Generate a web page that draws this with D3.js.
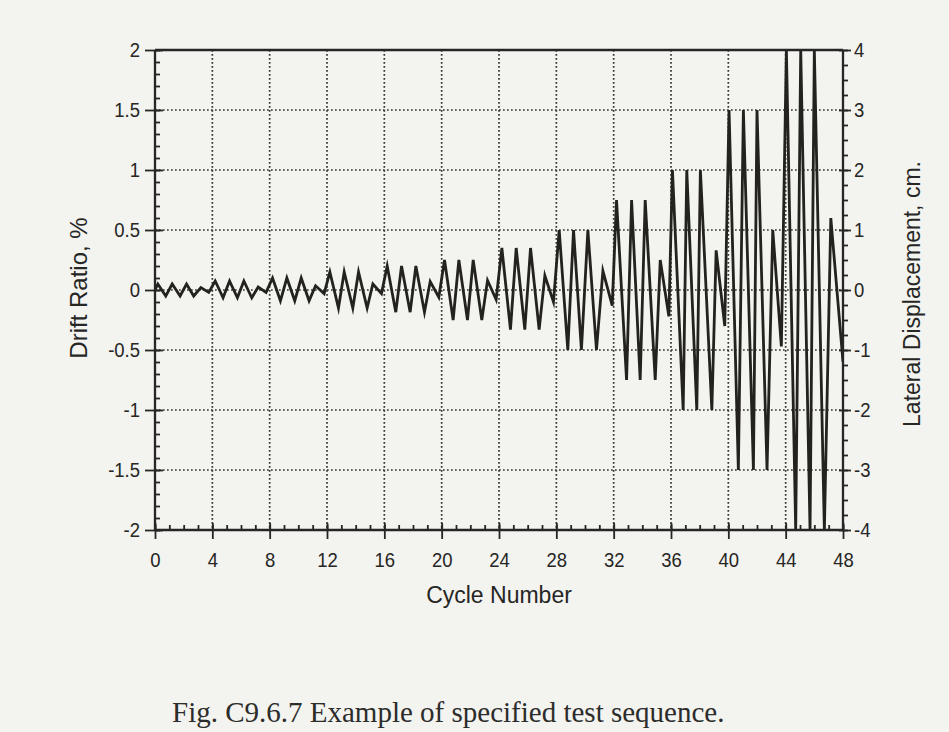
<!DOCTYPE html>
<html><head><meta charset="utf-8">
<script src="https://cdn.jsdelivr.net/npm/d3@7"></script>
<style>
html,body{margin:0;padding:0;background:#f3f3f0;}
svg{display:block;}
text{font-family:"Liberation Sans",Arial,Helvetica,sans-serif;fill:#262624;}
</style></head><body>
<svg id="chart" width="949" height="732"></svg>
<script>
// ---- data ----
const xTickValues = [0,4,8,12,16,20,24,28,32,36,40,44,48];
const xTickLabels = ["0","4","8","12","16","20","24","28","32","36","40","44","48"];
const yTickValues = [-2,-1.5,-1,-0.5,0,0.5,1,1.5,2];
const yTickLabels = ["-2","-1.5","-1","-0.5","0","0.5","1","1.5","2"];
const y2TickValues = [-4,-3,-2,-1,0,1,2,3,4];
const y2TickLabels = ["-4","-3","-2","-1","0","1","2","3","4"];

// cycle position of each positive peak and its drift ratio (%)
const peakCycle = [0.2,1.2,2.2,3.2, 4.2,5.2,6.2,7.2, 8.2,9.2,10.2,11.2,
  12.2,13.2,14.2,15.2, 16.2,17.2,18.2,19.2, 20.2,21.2,22.2,23.2,
  24.2,25.2,26.2,27.2, 28.2,29.2,30.2,31.25, 32.2,33.25,34.2,35.25,
  36.1,37.1,38.05,39.15, 40.05,41.05,42.0,43.1, 44.05,45.05,46.0,47.15];
const peakDrift = [0.05,0.05,0.05,0.02, 0.075,0.075,0.075,0.025, 0.1,0.1,0.1,0.035,
  0.15,0.15,0.15,0.05, 0.2,0.2,0.2,0.07, 0.25,0.25,0.25,0.08,
  0.35,0.35,0.35,0.12, 0.5,0.5,0.5,0.16, 0.75,0.75,0.75,0.25,
  1.0,1.0,1.0,0.33, 1.5,1.5,1.5,0.5, 2.0,2.0,2.0,0.6];
// cycle position of each negative peak and its drift ratio (%)
const troughCycle = [0.75,1.75,2.7,3.75, 4.75,5.75,6.75,7.75, 8.75,9.75,10.75,11.8,
  12.8,13.8,14.8,15.8, 16.8,17.8,18.8,19.8, 20.8,21.8,22.8,23.8,
  24.8,25.8,26.8,27.8, 28.8,29.75,30.8,31.9, 32.9,33.85,34.9,35.85,
  36.85,37.8,38.85,39.75, 40.7,41.75,42.7,43.7, 44.7,45.7,46.7,48];
const troughDrift = [-0.05,-0.05,-0.05,-0.02, -0.065,-0.065,-0.065,-0.02, -0.09,-0.09,-0.09,-0.03,
  -0.15,-0.15,-0.15,-0.03, -0.185,-0.185,-0.185,-0.06, -0.25,-0.25,-0.25,-0.08,
  -0.33,-0.33,-0.33,-0.1, -0.5,-0.5,-0.5,-0.13, -0.75,-0.75,-0.75,-0.22,
  -1.0,-1.0,-1.0,-0.3, -1.5,-1.5,-1.5,-0.47, -2.0,-2.0,-2.0,-0.6];
const startPoint = [0, 0];

// ---- layout ----
const L = 155, R = 843, T = 50, B = 530;
const ink = "#262624";
const svg = d3.select("#chart");

const x = d3.scaleLinear().domain([0,48]).range([L,R]);
const y = d3.scaleLinear().domain([-2,2]).range([B,T]);
const y2 = d3.scaleLinear().domain([-4,4]).range([B,T]);

// dotted grid
const grid = svg.append("g").attr("stroke", "#353533").attr("stroke-width", 1.7)
  .attr("stroke-dasharray", "1.7,2.3");
grid.selectAll("line.v").data(xTickValues.filter(v => v > 0 && v < 48)).join("line")
  .attr("x1", d => x(d)).attr("x2", d => x(d)).attr("y1", T).attr("y2", B);
grid.selectAll("line.h").data(yTickValues.filter(v => v > -2 && v < 2)).join("line")
  .attr("y1", d => y(d)).attr("y2", d => y(d)).attr("x1", L).attr("x2", R);

// data line
const pts = [startPoint];
for (let i = 0; i < peakCycle.length; i++) {
  pts.push([peakCycle[i], peakDrift[i]]);
  pts.push([troughCycle[i], troughDrift[i]]);
}
svg.append("clipPath").attr("id","clip").append("rect")
  .attr("x", L).attr("y", T).attr("width", R-L).attr("height", B-T);
svg.append("path").datum(pts)
  .attr("clip-path","url(#clip)")
  .attr("fill","none").attr("stroke","#23221e").attr("stroke-width",2.8)
  .attr("stroke-linejoin","miter").attr("stroke-miterlimit",6)
  .attr("d", d3.line().x(d => x(d[0])).y(d => y(d[1])));

// helpers
function styleAxis(g, fs) {
  g.select(".domain").remove();
  g.selectAll(".tick line").attr("stroke", ink).attr("stroke-width", 1.8);
  g.selectAll(".tick text").attr("font-size", fs).attr("fill", ink)
    .attr("font-family", '"Liberation Sans",Arial,sans-serif')
    .attr("transform", "scale(1,1.12)");
}
const minorY = d3.range(-20, 21).map(v => v / 10);
const minorX = d3.range(0, 49);
const minorY2 = d3.range(-16, 17).map(v => v / 4);

// left axis
svg.append("g").attr("transform", `translate(${L},0)`)
  .call(d3.axisLeft(y).tickValues(yTickValues).tickSize(10).tickPadding(5)
    .tickFormat((d,i) => yTickLabels[i]))
  .call(g => styleAxis(g, 18.5));
svg.append("g").attr("transform", `translate(${L},0)`)
  .call(d3.axisRight(y).tickValues(yTickValues).tickSize(8).tickFormat(""))
  .call(g => styleAxis(g, 0));
svg.append("g").attr("transform", `translate(${L},0)`)
  .call(d3.axisRight(y).tickValues(minorY).tickSize(5).tickFormat(""))
  .call(g => styleAxis(g, 0));

// bottom axis
svg.append("g").attr("transform", `translate(0,${B})`)
  .call(d3.axisBottom(x).tickValues(xTickValues).tickSize(9).tickPadding(11)
    .tickFormat((d,i) => xTickLabels[i]))
  .call(g => styleAxis(g, 18.5));
svg.append("g").attr("transform", `translate(0,${B})`)
  .call(d3.axisTop(x).tickValues(xTickValues).tickSize(7).tickFormat(""))
  .call(g => styleAxis(g, 0));
svg.append("g").attr("transform", `translate(0,${B})`)
  .call(d3.axisTop(x).tickValues(minorX).tickSize(5).tickFormat(""))
  .call(g => styleAxis(g, 0));

// right axis
svg.append("g").attr("transform", `translate(${R},0)`)
  .call(d3.axisRight(y2).tickValues(y2TickValues).tickSize(8).tickPadding(3)
    .tickFormat((d,i) => y2TickLabels[i]))
  .call(g => styleAxis(g, 18.5));
svg.append("g").attr("transform", `translate(${R},0)`)
  .call(d3.axisLeft(y2).tickValues(y2TickValues).tickSize(4).tickFormat(""))
  .call(g => styleAxis(g, 0));
svg.append("g").attr("transform", `translate(${R},0)`)
  .call(d3.axisRight(y2).tickValues(minorY2).tickSize(5).tickFormat(""))
  .call(g => styleAxis(g, 0));

// frame lines
const frame = svg.append("g").attr("stroke", ink).attr("stroke-width", 2.3);
frame.append("line").attr("x1", L).attr("x2", L).attr("y1", T).attr("y2", B);
frame.append("line").attr("x1", R).attr("x2", R).attr("y1", T).attr("y2", B);
frame.append("line").attr("x1", L).attr("x2", R).attr("y1", T).attr("y2", T);
frame.append("line").attr("x1", L).attr("x2", R).attr("y1", B).attr("y2", B);

// titles
svg.append("text").attr("x", (L+R)/2).attr("y", 603).attr("text-anchor","middle")
  .attr("font-size", 23).text("Cycle Number");
svg.append("text").attr("transform", `translate(87,${(T+B)/2 - 2}) rotate(-90)`)
  .attr("text-anchor","middle").attr("font-size", 24).text("Drift Ratio, %");
svg.append("text").attr("transform", `translate(920,${(T+B)/2 + 4}) rotate(-90)`)
  .attr("text-anchor","middle").attr("font-size", 23).text("Lateral Displacement, cm.");

// caption
svg.append("text").attr("x", 172).attr("y", 722)
  .style("font-family", '"Liberation Serif","Times New Roman",serif')
  .attr("font-size", 29).style("fill", "#2c2c2a")
  .text("Fig. C9.6.7 Example of specified test sequence.");
</script>
</body></html>
